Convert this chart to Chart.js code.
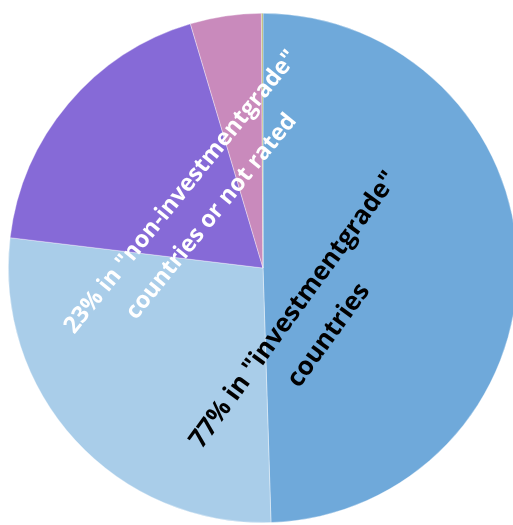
<!DOCTYPE html>
<html>
<head>
<meta charset="utf-8">
<script src="https://cdn.jsdelivr.net/npm/chart.js@4"></script>
<style>
  html, body { margin: 0; padding: 0; background: #fff; overflow: hidden; }
  #wrap { width: 513px; height: 525px; overflow: hidden; }
</style>
</head>
<body>
<div id="wrap"><canvas id="pieChart" width="526" height="525"></canvas></div>
<script>
// shares in percent, clockwise from 12 o'clock
const CATEGORIES = ["Investmentgrade A", "Investmentgrade B", "Non-investmentgrade", "Not rated", "Other"]
const VALUES = [49.5, 27.4, 18.5, 4.5, 0.1]
const COLORS = ['#6FA9DA', '#A9CDE9', '#866AD7', '#C98ABC', '#B4B46E']

// the two group labels drawn across the pie
const LABELS = [
    { lines: ['77% in "investmentgrade"', 'countries'], color: '#000', size: 25.7, dx: 0.19, dy: 0.215, angle: -54, gap: 43 },
    { lines: ['23% in "non-investmentgrade"', 'countries or not rated'], color: '#fff', size: 23.3, dx: -0.262, dy: -0.25, angle: -51, gap: 39 }
]

const groupLabels = {
    id: 'groupLabels',
    afterDatasetsDraw(chart) {
        const ctx = chart.ctx
        const arc = chart.getDatasetMeta(0).data[0]
        const cx = arc.x, cy = arc.y, r = arc.outerRadius
        ctx.save()
        ctx.textAlign = 'center'
        ctx.textBaseline = 'middle'
        LABELS.forEach(l => {
            ctx.save()
            ctx.font = 'bold ' + l.size + 'px "Open Sans"'
            ctx.translate(cx + l.dx * r, cy + l.dy * r)
            ctx.rotate(l.angle * Math.PI / 180)
            ctx.fillStyle = l.color
            const off = (l.lines.length - 1) * l.gap / 2
            l.lines.forEach((t, i) => ctx.fillText(t, 0, i * l.gap - off))
            ctx.restore()
        })
        ctx.restore()
    }
}

new Chart(document.getElementById('pieChart'), {
    type: 'pie',
    data: {
        labels: CATEGORIES,
        datasets: [{
            data: VALUES,
            backgroundColor: COLORS,
            borderColor: 'rgba(255,255,255,0.6)',
            borderWidth: 0.6
        }]
    },
    options: {
        responsive: false,
        animation: false,
        layout: { padding: { top: 13, bottom: 2, left: 8, right: 8 } },
        plugins: {
            legend: { display: false },
            tooltip: { enabled: false }
        }
    },
    plugins: [groupLabels]
})
</script>
</body>
</html>
